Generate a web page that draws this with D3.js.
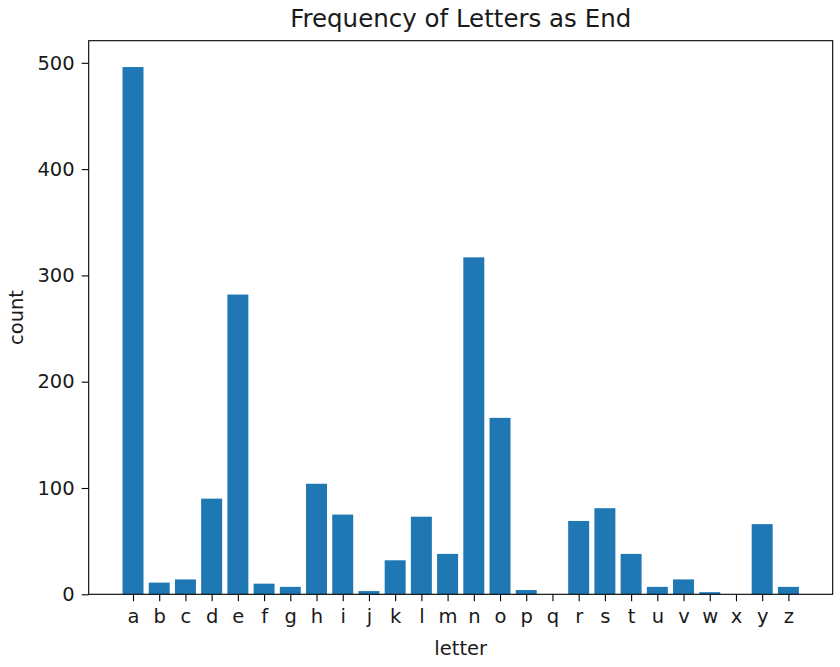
<!DOCTYPE html>
<html>
<head>
<meta charset="utf-8">
<script src="https://cdn.jsdelivr.net/npm/d3@7"></script>
<style>
  html, body { margin: 0; padding: 0; background: #fff; }
  svg { display: block; font-family: "DejaVu Sans", sans-serif; }
</style>
</head>
<body>
<svg id="chart" width="840" height="667"></svg>
<script>
const letters = ["a","b","c","d","e","f","g","h","i","j","k","l","m","n","o","p","q","r","s","t","u","v","w","x","y","z"];
const counts = [496, 11, 14, 90, 282, 10, 7, 104, 75, 3, 32, 73, 38, 317, 166, 4, 0, 69, 81, 38, 7, 14, 2, 0, 66, 7];
const yTicks = [0, 100, 200, 300, 400, 500];
const titleText = "Frequency of Letters as End";
const xLabel = "letter";
const yLabel = "count";

(function () {
const svg = d3.select("#chart");
const pL = 88.7, pR = 832.7, pT = 40.7, pB = 594.3;
const barW = 0.8;
const lo = -barW / 2, hi = letters.length - 1 + barW / 2;
const m = (hi - lo) * 0.05;
const x = d3.scaleLinear().domain([lo - m, hi + m]).range([pL, pR]);
const y = d3.scaleLinear().domain([0, d3.max(counts) * 1.05]).range([pB, pT]);

svg.append("g").selectAll("rect").data(counts).join("rect")
  .attr("x", (d, i) => x(i - barW / 2))
  .attr("width", (d, i) => x(i + barW / 2) - x(i - barW / 2))
  .attr("y", d => y(d))
  .attr("height", d => y(0) - y(d))
  .attr("fill", "#1f77b4");

const xAxis = d3.axisBottom(x).tickValues(d3.range(letters.length))
  .tickFormat(i => letters[i]).tickSizeOuter(0).tickSize(7).tickPadding(8);
const gx = svg.append("g").attr("transform", `translate(0,${pB})`).call(xAxis);
gx.select(".domain").remove();
gx.selectAll("text").attr("font-size", 19.5).attr("font-family", "DejaVu Sans").attr("fill", "#1a1a1a");
gx.selectAll("line").attr("stroke", "#000").attr("stroke-width", 1.1);

const yAxis = d3.axisLeft(y).tickValues(yTicks).tickSizeOuter(0).tickSize(7).tickPadding(7);
const gy = svg.append("g").attr("transform", `translate(${pL},0)`).call(yAxis);
gy.select(".domain").remove();
gy.selectAll("text").attr("font-size", 19.5).attr("font-family", "DejaVu Sans").attr("fill", "#1a1a1a");
gy.selectAll("line").attr("stroke", "#000").attr("stroke-width", 1.1);

svg.append("rect").attr("x", pL).attr("y", pT)
  .attr("width", pR - pL).attr("height", pB - pT)
  .attr("fill", "none").attr("stroke", "#000").attr("stroke-width", 1.1);

svg.append("text").attr("x", (pL + pR) / 2).attr("y", 27)
  .attr("text-anchor", "middle").attr("font-size", 24.5).attr("fill", "#1a1a1a").text(titleText);
svg.append("text").attr("x", (pL + pR) / 2).attr("y", 655)
  .attr("text-anchor", "middle").attr("font-size", 19.5).attr("fill", "#1a1a1a").text(xLabel);
svg.append("text").attr("transform", `translate(23,${(pT + pB) / 2}) rotate(-90)`)
  .attr("text-anchor", "middle").attr("font-size", 19.5).attr("fill", "#1a1a1a").text(yLabel);
})();
</script>
</body>
</html>
